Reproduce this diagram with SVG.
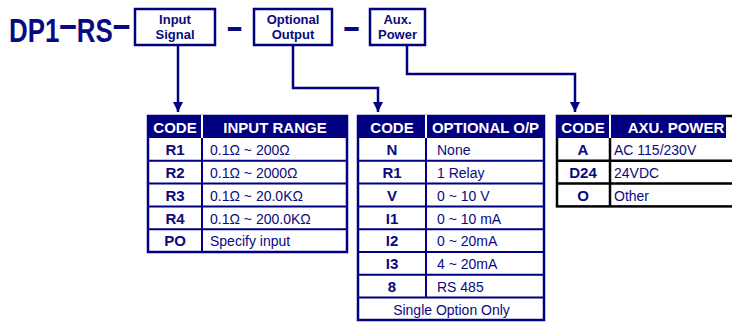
<svg xmlns="http://www.w3.org/2000/svg" width="732" height="322" viewBox="0 0 732 322">
<style>
.t{font-family:"Liberation Sans",Arial,sans-serif;fill:#0a0a80}
.title{font-size:33px;font-weight:bold}
.dl{font-size:40px}
.dash{font-size:40px;font-weight:bold;text-anchor:middle}
.box{fill:#fff;stroke:#000080;stroke-width:2.5}
.bt{font-size:13px;font-weight:bold;text-anchor:middle}
.hd{fill:#000080}
.ht{font-family:"Liberation Sans",Arial,sans-serif;fill:#fff;font-size:15px;font-weight:bold;text-anchor:middle}
.code{font-size:15px;font-weight:bold;text-anchor:middle}
.val{font-size:14px}
.ln{stroke:#000080;stroke-width:2;fill:none}
.lk{stroke:#000;stroke-width:2.5;fill:none}
.outer{stroke:#000080;stroke-width:2.5;fill:#fff}
.conn{stroke:#000080;stroke-width:2.5;fill:none}
</style>
<defs>
<marker id="arr" markerUnits="userSpaceOnUse" markerWidth="10" markerHeight="10" viewBox="0 0 10 10" refX="10" refY="5" orient="auto">
<path d="M0,0 L10,5 L0,10 z" fill="#000080"/>
</marker>
</defs>
<rect width="732" height="322" fill="#fff"/>
<g id="title">
<text class="t title" transform="translate(9,42) scale(0.784,1)" x="0" y="0">DP1<tspan class="dl" dy="-4.5">–</tspan><tspan dy="4.5">RS</tspan><tspan class="dl" dy="-4.5">–</tspan></text>
</g>
<g id="box-input">
<rect class="box" x="135" y="9" width="80" height="36"/>
<text class="t bt" x="175" y="24">Input</text>
<text class="t bt" x="175" y="39">Signal</text>
</g>
<g id="dash1"><text class="t dash" x="234.5" y="39.5" textLength="15" lengthAdjust="spacingAndGlyphs">–</text></g>
<g id="box-output">
<rect class="box" x="254" y="9" width="78" height="36"/>
<text class="t bt" x="293" y="24">Optional</text>
<text class="t bt" x="293" y="39">Output</text>
</g>
<g id="dash2"><text class="t dash" x="351.5" y="39.5" textLength="16" lengthAdjust="spacingAndGlyphs">–</text></g>
<g id="box-power">
<rect class="box" x="370" y="9" width="55" height="36"/>
<text class="t bt" x="397.5" y="24">Aux.</text>
<text class="t bt" x="397.5" y="39">Power</text>
</g>
<g id="connectors">
<path class="conn" d="M178,46 V112" marker-end="url(#arr)"/>
<path class="conn" d="M293,46 V88 H378 V112" marker-end="url(#arr)"/>
<path class="conn" d="M407,46 V74 H575 V112" marker-end="url(#arr)"/>
</g>
<g id="table-input">
<rect class="outer" x="148" y="116" width="199" height="136"/>
<rect class="hd" x="147" y="115" width="201" height="23"/>
<line x1="202" y1="115" x2="202" y2="138" stroke="#fff" stroke-width="2"/>
<text class="ht" x="175" y="133">CODE</text>
<text class="ht" x="275" y="133">INPUT RANGE</text>
<path class="ln" d="M202,138 V252 M148,160.8 H347 M148,183.6 H347 M148,206.4 H347 M148,229.2 H347"/>
<text class="t code" x="175" y="155">R1</text><text class="t val" x="210" y="155">0.1Ω ~ 200Ω</text>
<text class="t code" x="175" y="178">R2</text><text class="t val" x="210" y="178">0.1Ω ~ 2000Ω</text>
<text class="t code" x="175" y="201">R3</text><text class="t val" x="210" y="201">0.1Ω ~ 20.0KΩ</text>
<text class="t code" x="175" y="224">R4</text><text class="t val" x="210" y="224">0.1Ω ~ 200.0KΩ</text>
<text class="t code" x="175" y="246">PO</text><text class="t val" x="210" y="246">Specify input</text>
</g>
<g id="table-output">
<rect class="outer" x="358" y="116" width="186" height="204"/>
<rect class="hd" x="357" y="115" width="188" height="23"/>
<line x1="426" y1="115" x2="426" y2="138" stroke="#fff" stroke-width="2"/>
<text class="ht" x="392" y="133">CODE</text>
<text class="ht" x="485.5" y="133">OPTIONAL O/P</text>
<path class="ln" d="M426,138 V297.6 M358,160.8 H544 M358,183.6 H544 M358,206.4 H544 M358,229.2 H544 M358,252 H544 M358,274.8 H544 M358,297.6 H544"/>
<text class="t code" x="392" y="155">N</text><text class="t val" x="437" y="155">None</text>
<text class="t code" x="392" y="178">R1</text><text class="t val" x="437" y="178">1 Relay</text>
<text class="t code" x="392" y="201">V</text><text class="t val" x="437" y="201">0 ~ 10 V</text>
<text class="t code" x="392" y="224">I1</text><text class="t val" x="437" y="224">0 ~ 10 mA</text>
<text class="t code" x="392" y="246">I2</text><text class="t val" x="437" y="246">0 ~ 20mA</text>
<text class="t code" x="392" y="269">I3</text><text class="t val" x="437" y="269">4 ~ 20mA</text>
<text class="t code" x="392" y="292">8</text><text class="t val" x="437" y="292">RS 485</text>
<text class="t val" x="451.5" y="315" text-anchor="middle">Single Option Only</text>
</g>
<g id="table-power">
<rect class="lk" x="557" y="116" width="190" height="90.4" fill="#fff"/>
<rect class="hd" x="556" y="115" width="170" height="23"/>
<line x1="610" y1="115" x2="610" y2="138" stroke="#fff" stroke-width="2"/>
<text class="ht" x="583" y="133">CODE</text>
<text class="ht" x="676" y="133">AXU. POWER</text>
<path class="lk" d="M610,138 V206.4 M557,160.8 H740 M557,183.6 H740"/>
<text class="t code" x="583" y="155">A</text><text class="t val" x="614" y="155">AC 115/230V</text>
<text class="t code" x="583" y="178">D24</text><text class="t val" x="614" y="178">24VDC</text>
<text class="t code" x="583" y="201">O</text><text class="t val" x="614" y="201">Other</text>
</g>
</svg>
